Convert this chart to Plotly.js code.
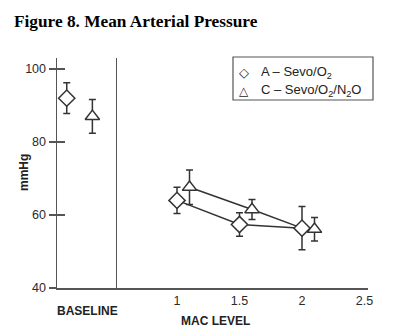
<!DOCTYPE html>
<html>
<head>
<meta charset="utf-8">
<script src="https://cdn.plot.ly/plotly-3.0.1.min.js"></script>
<style>html,body{margin:0;padding:0;background:#fff;}#chart{width:400px;height:336px;}</style>
</head>
<body>
<div id="chart"></div>
<script>
// Baseline panel (x positions are slot indices inside the baseline panel)
const baseSlots = [0, 1];
const baseMean = [92, 87];
const baseErr = [4.2, 4.6];

// Group A – Sevo/O2 at MAC levels
const aMac = [1.0, 1.5, 2.0];
const aMean = [64, 57.4, 56.4];
const aErr = [3.6, 3.2, 5.9];

// Group C – Sevo/O2/N2O at MAC levels (plotted slightly offset)
const cMac = [1.1, 1.6, 2.1];
const cMean = [67.6, 61.5, 56.1];
const cErr = [4.7, 2.75, 3.2];

const yTicks = [40, 60, 80, 100];
const macTicks = [1, 1.5, 2, 2.5];
const macTickText = ['1', '1.5', '2', '2.5'];

// The C connecting line in the original ends on the A point at MAC 2
const cLineX = cMac.slice(0, 2).concat([aMac[2]]);
const cLineY = cMean.slice(0, 2).concat([aMean[2]]);

const ink = '#333';
const axisCol = '#555';
const tickFont = {family: 'Liberation Sans, Arial, sans-serif', size: 12.5, color: '#2a2a2a'};

function errY(arr) {
  return {type: 'data', array: arr, visible: true, color: ink, thickness: 1.5, width: 3.5};
}

const diamond = {symbol: 'diamond', size: 12.5, color: '#fff', line: {color: ink, width: 1.5}};
const triangle = {symbol: 'triangle-up', size: 12.5, color: '#fff', line: {color: ink, width: 1.5}};

const traces = [
  // lines first (below markers)
  {x: aMac, y: aMean, xaxis: 'x2', yaxis: 'y2', mode: 'lines', line: {color: ink, width: 1.5}, hoverinfo: 'skip', showlegend: false},
  {x: cLineX, y: cLineY, xaxis: 'x2', yaxis: 'y2', mode: 'lines', line: {color: ink, width: 1.5}, hoverinfo: 'skip', showlegend: false},
  // baseline points
  {x: [baseSlots[0]], y: [baseMean[0]], error_y: errY([baseErr[0]]), xaxis: 'x', yaxis: 'y', mode: 'markers', marker: diamond, name: 'A – Sevo/O2', showlegend: false},
  {x: [baseSlots[1]], y: [baseMean[1]], error_y: errY([baseErr[1]]), xaxis: 'x', yaxis: 'y', mode: 'markers', marker: triangle, name: 'C – Sevo/O2/N2O', showlegend: false},
  // MAC points
  {x: aMac, y: aMean, error_y: errY(aErr), xaxis: 'x2', yaxis: 'y2', mode: 'markers', marker: diamond, name: 'A – Sevo/O2', showlegend: false},
  {x: cMac, y: cMean, error_y: errY(cErr), xaxis: 'x2', yaxis: 'y2', mode: 'markers', marker: triangle, name: 'C – Sevo/O2/N2O', showlegend: false},
  // carrier for the inner tick axis
  {x: [null], y: [null], xaxis: 'x', yaxis: 'y3', mode: 'markers', hoverinfo: 'skip', showlegend: false}
];

const yRange = [40, 103];
const W = 311; // plot width in px
const splitFrac = 60 / W;

const layout = {
  width: 400, height: 336,
  margin: {l: 57, r: 32, t: 58, b: 48},
  paper_bgcolor: '#fff', plot_bgcolor: '#fff',
  showlegend: false,
  title: {
    text: '<b>Figure 8. Mean Arterial Pressure</b>',
    font: {family: 'Liberation Serif, Times New Roman, serif', size: 17.3, color: '#000'},
    x: 14 / 400, xanchor: 'left', xref: 'container',
    y: 1 - 20.5 / 336, yanchor: 'middle', yref: 'container'
  },
  xaxis: {
    domain: [0, splitFrac], range: [-0.38, 1.96], anchor: 'y',
    showline: true, linecolor: axisCol, linewidth: 1.5,
    showgrid: false, zeroline: false, showticklabels: false, ticks: ''
  },
  xaxis2: {
    domain: [splitFrac, 1], range: [0.52, 2.528], anchor: 'y2',
    showline: true, linecolor: axisCol, linewidth: 1.5,
    showgrid: false, zeroline: false, ticks: '',
    tickmode: 'array', tickvals: macTicks, ticktext: macTickText,
    tickfont: tickFont
  },
  yaxis: {
    range: yRange, anchor: 'x', side: 'left',
    showline: true, linecolor: axisCol, linewidth: 1.5,
    showgrid: false, zeroline: false,
    ticks: 'outside', ticklen: 7, tickwidth: 1.5, tickcolor: axisCol,
    tickmode: 'array', tickvals: yTicks, tickfont: tickFont
  },
  yaxis3: {
    range: yRange, overlaying: 'y', anchor: 'x', side: 'left',
    showline: false, showgrid: false, zeroline: false,
    ticks: 'inside', ticklen: 8, tickwidth: 1.5, tickcolor: axisCol,
    tickmode: 'array', tickvals: yTicks, showticklabels: false
  },
  yaxis2: {
    range: yRange, overlaying: 'y', anchor: 'x2', side: 'left',
    showline: true, linecolor: axisCol, linewidth: 1.5,
    showgrid: false, zeroline: false, ticks: '', showticklabels: false
  },
  shapes: [
    {type: 'rect', xref: 'paper', yref: 'paper',
     x0: (233 - 57) / W, x1: (373 - 57) / W, y0: (288 - 100) / 230, y1: (288 - 57) / 230,
     line: {color: '#555', width: 1.2}, fillcolor: 'rgba(0,0,0,0)'}
  ],
  annotations: [
    {text: '<b>mmHg</b>', xref: 'paper', yref: 'paper', x: (24 - 57) / W, y: (288 - 173) / 230,
     textangle: -90, showarrow: false, xanchor: 'center', yanchor: 'middle',
     font: {family: 'Liberation Sans, Arial, sans-serif', size: 12, color: '#222'}},
    {text: '<b>BASELINE</b>', xref: 'paper', yref: 'paper', x: (87 - 57) / W, y: (288 - 311) / 230,
     showarrow: false, xanchor: 'center', yanchor: 'middle',
     font: {family: 'Liberation Sans, Arial, sans-serif', size: 12, color: '#222'}},
    {text: '<b>MAC LEVEL</b>', xref: 'paper', yref: 'paper', x: (215 - 57) / W, y: (288 - 321) / 230,
     showarrow: false, xanchor: 'center', yanchor: 'middle',
     font: {family: 'Liberation Sans, Arial, sans-serif', size: 12, color: '#222'}},
    {text: '◇', xref: 'paper', yref: 'paper', x: (244 - 57) / W, y: (288 - 73) / 230,
     showarrow: false, xanchor: 'center', yanchor: 'middle',
     font: {family: 'DejaVu Sans, sans-serif', size: 13, color: '#222'}},
    {text: '△', xref: 'paper', yref: 'paper', x: (244 - 57) / W, y: (288 - 91) / 230,
     showarrow: false, xanchor: 'center', yanchor: 'middle',
     font: {family: 'DejaVu Sans, sans-serif', size: 12, color: '#222'}},
    {text: 'A – Sevo/O<sub>2</sub>', xref: 'paper', yref: 'paper', x: (259 - 57) / W, y: (288 - 73) / 230,
     showarrow: false, xanchor: 'left', yanchor: 'middle',
     font: {family: 'Liberation Sans, Arial, sans-serif', size: 13, color: '#222'}},
    {text: 'C – Sevo/O<sub>2</sub>/N<sub>2</sub>O', xref: 'paper', yref: 'paper', x: (259 - 57) / W, y: (288 - 91) / 230,
     showarrow: false, xanchor: 'left', yanchor: 'middle',
     font: {family: 'Liberation Sans, Arial, sans-serif', size: 13, color: '#222'}}
  ]
};

Plotly.newPlot('chart', traces, layout, {displayModeBar: false, staticPlot: true});
</script>
</body>
</html>
